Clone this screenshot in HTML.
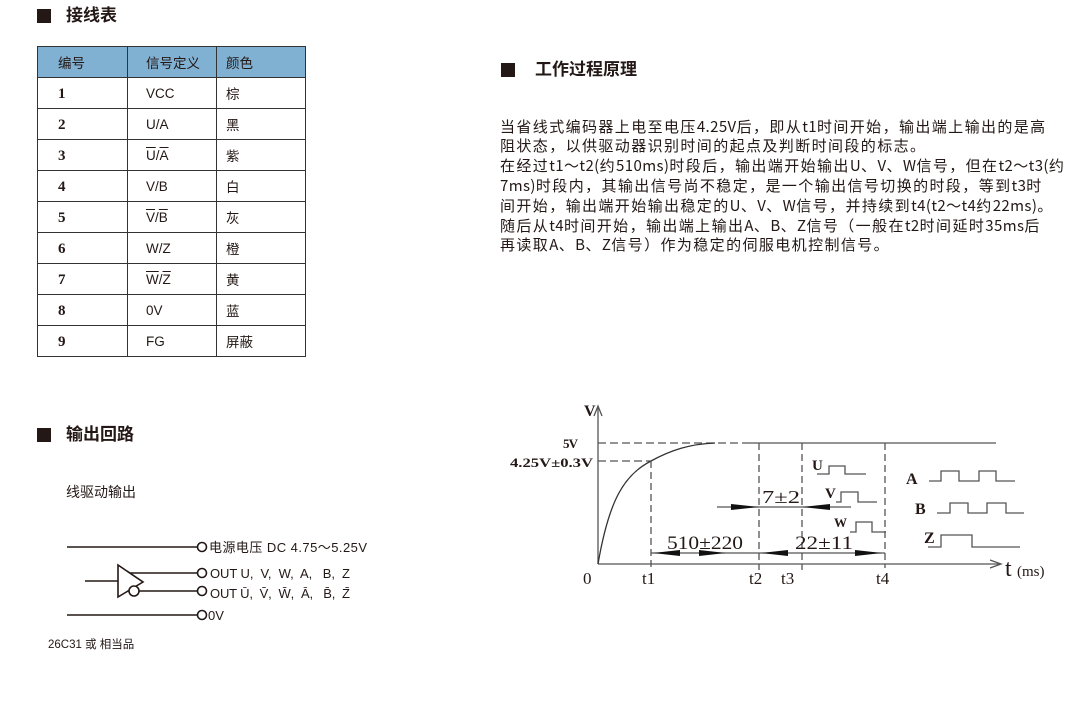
<!DOCTYPE html>
<html><head><meta charset="utf-8">
<style>
*{margin:0;padding:0;box-sizing:border-box}
body{width:1087px;height:703px;background:#fff;position:relative;overflow:hidden;font-family:"Liberation Sans","Noto Sans CJK SC",sans-serif;color:#231815}
.abs{position:absolute;white-space:nowrap}
.sq{position:absolute;width:14px;height:14px;background:#231815}
.h{position:absolute;font-size:17px;font-weight:bold;line-height:20px}
table{position:absolute;left:37px;top:46px;border-collapse:collapse;font-size:13.5px}
td{border:1.5px solid #333;height:31px;padding:0;vertical-align:middle}
tr.hd td{background:#80b1d3;height:31px}
td.n{font-family:"Liberation Serif",serif;font-weight:bold;font-size:15px;padding-left:20px;padding-top:3px}
.p{position:absolute;left:500px;font-size:15px;line-height:20px;white-space:nowrap;font-family:"Noto Sans CJK SC",sans-serif;letter-spacing:1.4px}
.p i{font-style:normal;letter-spacing:0.4px}
.ov{text-decoration:overline}
</style></head><body>
<div class="sq" style="left:37px;top:9px"></div><div class="h" style="left:66px;top:6px">接线表</div>
<table>
<tr class="hd"><td style="width:90px;padding-left:20px">编号</td><td style="width:89px;padding-left:18px">信号定义</td><td style="width:89px;padding-left:9px">颜色</td></tr>
<tr><td class="n">1</td><td style="padding-left:18px">VCC</td><td style="padding-left:9px">棕</td></tr>
<tr><td class="n">2</td><td style="padding-left:18px">U/A</td><td style="padding-left:9px">黑</td></tr>
<tr><td class="n">3</td><td style="padding-left:18px"><span class="ov">U</span>/<span class="ov">A</span></td><td style="padding-left:9px">紫</td></tr>
<tr><td class="n">4</td><td style="padding-left:18px">V/B</td><td style="padding-left:9px">白</td></tr>
<tr><td class="n">5</td><td style="padding-left:18px"><span class="ov">V</span>/<span class="ov">B</span></td><td style="padding-left:9px">灰</td></tr>
<tr><td class="n">6</td><td style="padding-left:18px">W/Z</td><td style="padding-left:9px">橙</td></tr>
<tr><td class="n">7</td><td style="padding-left:18px"><span class="ov">W</span>/<span class="ov">Z</span></td><td style="padding-left:9px">黄</td></tr>
<tr><td class="n">8</td><td style="padding-left:18px">0V</td><td style="padding-left:9px">蓝</td></tr>
<tr><td class="n">9</td><td style="padding-left:18px">FG</td><td style="padding-left:9px">屏蔽</td></tr>
</table>

<div class="sq" style="left:37px;top:428px"></div><div class="h" style="left:66px;top:425px">输出回路</div>
<div class="abs" style="left:66px;top:482px;font-size:14px;font-family:'Noto Sans CJK SC',sans-serif">线驱动输出</div>

<div class="sq" style="left:501px;top:63px"></div><div class="h" style="left:535px;top:60px">工作过程原理</div>
<div class="p" style="top:117px">当省线式编码器上电至电压<i>4.25V</i>后，即从<i>t1</i>时间开始，输出端上输出的是高</div>
<div class="p" style="top:136px">阻状态，以供驱动器识别时间的起点及判断时间段的标志。</div>
<div class="p" style="top:156px">在经过<i>t1～t2(</i>约<i>510ms)</i>时段后，输出端开始输出<i>U</i>、<i>V</i>、<i>W</i>信号，但在<i>t2～t3(</i>约</div>
<div class="p" style="top:176px"><i>7ms)</i>时段内，其输出信号尚不稳定，是一个输出信号切换的时段，等到<i>t3</i>时</div>
<div class="p" style="top:196px">间开始，输出端开始输出稳定的<i>U</i>、<i>V</i>、<i>W</i>信号，并持续到<i>t4(t2～t4</i>约<i>22ms)</i>。</div>
<div class="p" style="top:216px">随后从<i>t4</i>时间开始，输出端上输出<i>A</i>、<i>B</i>、<i>Z</i>信号（一般在<i>t2</i>时间延时<i>35ms</i>后</div>
<div class="p" style="top:235px">再读取<i>A</i>、<i>B</i>、<i>Z</i>信号）作为稳定的伺服电机控制信号。</div>

<svg class="abs" style="left:0;top:0" width="1087" height="703">
<g stroke="#231815" stroke-width="1.6" fill="none">
<line x1="67" y1="547" x2="198" y2="547"/><circle cx="202" cy="547" r="4.5" fill="#fff"/>
<line x1="128" y1="573" x2="198" y2="573"/><circle cx="202" cy="573" r="4.5" fill="#fff"/>
<line x1="139" y1="591" x2="198" y2="591"/><circle cx="202" cy="591" r="4.5" fill="#fff"/>
<line x1="67" y1="615" x2="198" y2="615"/><circle cx="202" cy="615" r="4.5" fill="#fff"/>
<line x1="85" y1="581" x2="118" y2="581"/>
<polygon points="118,565 118,597 143,582" fill="#fff"/>
<circle cx="134" cy="591" r="5" fill="#fff"/>
</g>
<g font-family="Liberation Sans,Noto Sans CJK SC,sans-serif" font-size="13" fill="#231815">
<text x="209" y="552" textLength="158" lengthAdjust="spacing">电源电压 DC 4.75～5.25V</text>
<text x="210" y="578" textLength="140" lengthAdjust="spacing" style="white-space:pre">OUT U,  V,  W,  A,   B,  Z</text>
<text x="210" y="598" textLength="140" lengthAdjust="spacing" style="white-space:pre">OUT Ū,  V̄,  W̄,  Ā,   B̄,  Z̄</text>
<text x="208" y="620">0V</text>
<text x="48" y="648" font-size="11.5">26C31 或 相当品</text>
</g>

<g stroke="#555" stroke-width="1.3" fill="none">
<line x1="598" y1="407" x2="598" y2="564"/>
<polyline points="594,416 598,406 602,416"/>
<line x1="598" y1="564" x2="1000" y2="564"/>
<polyline points="990,560 1001,564 990,568"/>
<line x1="598" y1="443" x2="745" y2="443" stroke-dasharray="8,4"/>
<line x1="745" y1="443" x2="996" y2="443"/>
<line x1="598" y1="461" x2="651" y2="461" stroke-dasharray="8,4"/>
<path d="M598,564 C609,500 624,475 651,461 C671,450 690,444 715,443" stroke="#333"/>
<g stroke-dasharray="7,4">
<line x1="651" y1="461" x2="651" y2="568"/>
<line x1="759" y1="443" x2="759" y2="570"/>
<line x1="802" y1="443" x2="802" y2="570"/>
<line x1="885" y1="443" x2="885" y2="568"/>
</g>
<line x1="717" y1="507" x2="851" y2="507"/>
<line x1="651" y1="553" x2="885" y2="553"/>
<polyline points="817,474 829,474 829,466 845,466 845,474 866,474"/>
<polyline points="836,502 841,502 841,492 858,492 858,502 877,502"/>
<polyline points="850,532 856,532 856,522 872,522 872,532 886,532"/>
<polyline points="929,481 941,481 941,471 959,471 959,481 979,481 979,471 996,471 996,481 1015,481"/>
<polyline points="937,513 950,513 950,503 968,503 968,513 987,513 987,503 1006,503 1006,513 1024,513"/>
<polyline points="928,547 941,547 941,535 972,535 972,547 1020,547"/>
</g>
<g fill="#111">
<polygon points="731,504 759,507 731,510"/>
<polygon points="830,504 802,507 830,510"/>
<polygon points="653,553 680,550 680,556"/>
<polygon points="700,553 727,550 727,556" transform="rotate(180 713 553)"/>
<polygon points="761,553 788,550 788,556"/>
<polygon points="855,550 882,553 855,556"/>
</g>
<g font-family="Liberation Serif,serif" fill="#231815" font-size="17">
<text x="584" y="416" font-weight="bold" font-size="16">V</text>
<text x="563" y="448" font-weight="bold" font-size="13" textLength="15">5V</text>
<text x="510" y="467" font-weight="bold" font-size="13" textLength="83" lengthAdjust="spacingAndGlyphs">4.25V±0.3V</text>
<text x="583" y="584">0</text>
<text x="642" y="584">t1</text>
<text x="749" y="584">t2</text>
<text x="781" y="584">t3</text>
<text x="876" y="584">t4</text>
<text x="1005" y="576" font-size="24">t</text>
<text x="1017" y="576" font-size="15">(ms)</text>
<text x="762" y="503" font-size="18" textLength="38" lengthAdjust="spacingAndGlyphs">7±2</text>
<text x="667" y="549" font-size="19" textLength="76" lengthAdjust="spacingAndGlyphs">510±220</text>
<text x="795" y="549" font-size="19" textLength="58" lengthAdjust="spacingAndGlyphs">22±11</text>
<text x="812" y="470" font-size="15" font-weight="bold">U</text>
<text x="825" y="498" font-size="15" font-weight="bold">V</text>
<text x="834" y="527" font-size="13" font-weight="bold">W</text>
<text x="906" y="484" font-size="16" font-weight="bold">A</text>
<text x="915" y="514" font-size="16" font-weight="bold">B</text>
<text x="924" y="543" font-size="16" font-weight="bold">Z</text>
</g>
</svg>
</body></html>
